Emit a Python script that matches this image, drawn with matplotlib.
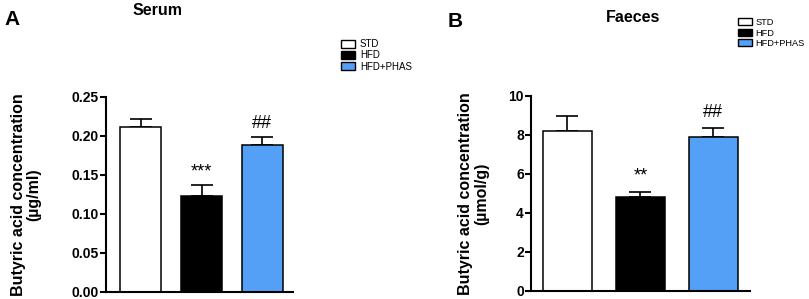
#!/usr/bin/env python3
# coding: utf-8
"""
Butyric acid concentration in serum and faeces (STD / HFD / HFD+PHAS)
"""

import matplotlib

matplotlib.use("Agg")
import matplotlib.pyplot as plt
from matplotlib.patches import Patch

# Data
groups = ["STD", "HFD", "HFD+PHAS"]
serum_mean = [0.211, 0.123, 0.188]
serum_err = [0.010, 0.014, 0.011]
serum_marks = ["", "***", "##"]
faeces_mean = [8.2, 4.8, 7.9]
faeces_err = [0.75, 0.30, 0.45]
faeces_marks = ["", "**", "##"]
serum_ticks = [0.00, 0.05, 0.10, 0.15, 0.20, 0.25]
faeces_ticks = [0, 2, 4, 6, 8, 10]

colors = ["white", "black", "#55a0f7"]

plt.rcParams["font.family"] = ["Liberation Sans", "DejaVu Sans"]

fig = plt.figure(figsize=(8.09, 2.99), dpi=100)


def draw_panel(ax, means, errs, marks, ticks, fmt, ylabel, mark_off, pad):
    x = list(range(len(means)))
    ax.bar(x, means, width=0.67, color=colors, edgecolor="black", linewidth=1.1, zorder=2)
    for xi, m, e in zip(x, means, errs):
        # upper error bar only, GraphPad style
        ax.errorbar(xi, m, yerr=[[0], [e]], fmt="none", ecolor="black",
                    elinewidth=1.2, capsize=8, capthick=1.2, zorder=1)
    for xi, m, e, s in zip(x, means, errs, marks):
        if s:
            ax.text(xi, m + e + mark_off, s, ha="center", va="bottom", fontsize=13)
    ax.set_ylim(ticks[0], ticks[-1])
    ax.set_yticks(ticks)
    ax.set_yticklabels([fmt.format(t) for t in ticks], fontweight="bold", fontsize=10)
    ax.set_xticks([])
    ax.spines["top"].set_visible(False)
    ax.spines["right"].set_visible(False)
    ax.spines["left"].set_linewidth(1.5)
    ax.spines["bottom"].set_linewidth(1.5)
    ax.spines["left"].set_bounds(ticks[0], ticks[-1])
    ax.tick_params(axis="y", direction="out", length=4, width=1.5, pad=1)
    ax.set_ylabel(ylabel, fontweight="bold", fontsize=11.5, labelpad=pad, linespacing=1.05)


handles = [Patch(facecolor=c, edgecolor="black", linewidth=1) for c in colors]

# Panel A: serum
ax1 = fig.add_axes([0.131, 0.025, 0.231, 0.651])
draw_panel(ax1, serum_mean, serum_err, serum_marks, serum_ticks, "{:.2f}",
           "Butyric acid concentration\n(\u00b5g/ml)", 0.006, 22)
ax1.set_xlim(-0.57, 2.5)
fig.text(0.195, 0.99, "Serum", fontweight="bold", fontsize=11.5, ha="center", va="top")
fig.text(0.006, 0.965, "A", fontweight="bold", fontsize=15, ha="left", va="top")
fig.legend(handles, groups, loc="upper left", bbox_to_anchor=(0.415, 0.885),
           frameon=False, fontsize=7, handlelength=1.5, handleheight=0.8,
           handletextpad=0.5, labelspacing=0.12, borderpad=0)

# Panel B: faeces
ax2 = fig.add_axes([0.656, 0.027, 0.271, 0.652])
draw_panel(ax2, faeces_mean, faeces_err, faeces_marks, faeces_ticks, "{:d}",
           "Butyric acid concentration\n(\u00b5mol/g)", 0.35, 14)
ax2.set_xlim(-0.5, 2.5)
fig.text(0.783, 0.965, "Faeces", fontweight="bold", fontsize=11.5, ha="center", va="top")
fig.text(0.553, 0.96, "B", fontweight="bold", fontsize=15, ha="left", va="top")
fig.legend(handles, groups, loc="upper left", bbox_to_anchor=(0.906, 0.955),
           frameon=False, fontsize=6.7, handlelength=1.5, handleheight=0.8,
           handletextpad=0.4, labelspacing=0.15, borderpad=0)

fig.savefig("out.png", dpi=100)
